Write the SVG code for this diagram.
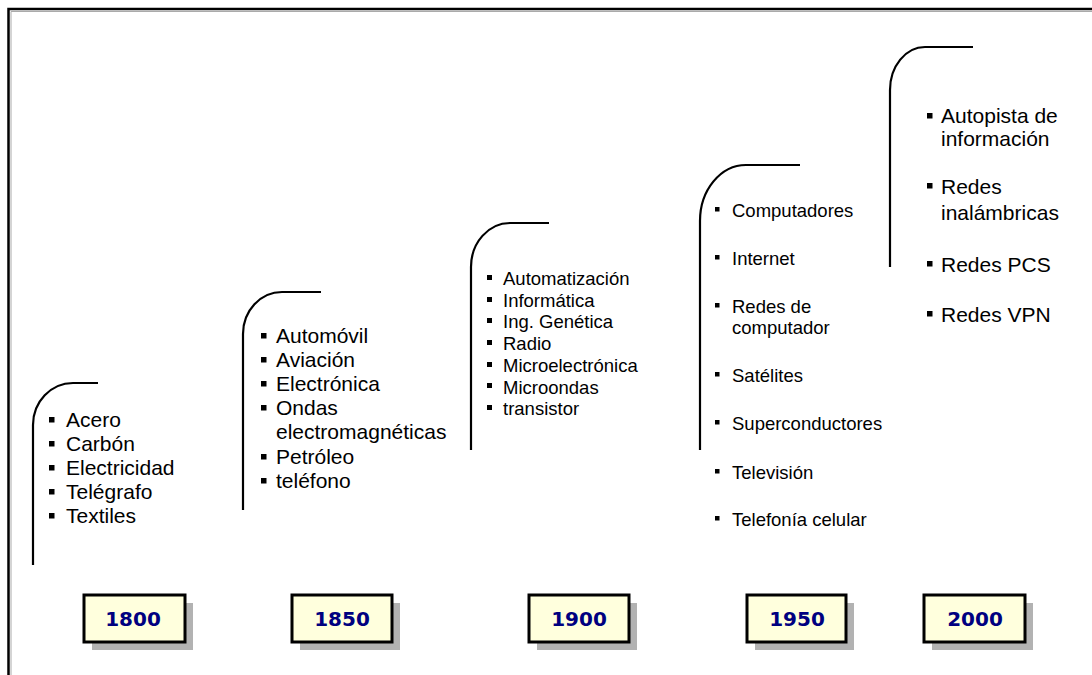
<svg xmlns="http://www.w3.org/2000/svg" width="1092" height="675" viewBox="0 0 1092 675">
<style>
.br{fill:none;stroke:#000;stroke-width:2.2}
.t{font-family:"Liberation Sans",Arial,sans-serif;fill:#000}
.t1{font-size:21px}
.t3{font-size:18.5px}
.b{fill:#000}
.yb{fill:#ffffdd;stroke:#000;stroke-width:3}
.sh{fill:#b2b2b2}
.yt{font-family:"DejaVu Sans",Verdana,sans-serif;font-weight:bold;font-size:20px;fill:#000080;text-anchor:middle}
</style>
<rect x="0" y="0" width="1092" height="675" fill="#fff"/>
<g id="frame">
<path d="M8.5 675 V9 H1092" fill="none" stroke="#000" stroke-width="2.5"/>
<path d="M11 675 V11.5 H1092" fill="none" stroke="#aaa" stroke-width="1"/>
</g>
<g id="connectors">
<path class="br" d="M98 383 H73 A40 42 0 0 0 33 425 V565"/>
<path class="br" d="M321 292 H282 A39 42 0 0 0 243 334 V510"/>
<path class="br" d="M549 223 H510 A39 44 0 0 0 471 267 V450"/>
<path class="br" d="M800 165 H746 A46 56 0 0 0 700 221 V450"/>
<path class="br" d="M973 47 H925 A35 43 0 0 0 890 90 V267"/>
</g>
<g id="n1800">
<g class="b"><rect x="49" y="417" width="5.5" height="5.5"/><rect x="49" y="441" width="5.5" height="5.5"/><rect x="49" y="465" width="5.5" height="5.5"/><rect x="49" y="489" width="5.5" height="5.5"/><rect x="49" y="513" width="5.5" height="5.5"/></g>
<text class="t t1" x="66" y="427">Acero</text>
<text class="t t1" x="66" y="451">Carbón</text>
<text class="t t1" x="66" y="475">Electricidad</text>
<text class="t t1" x="66" y="499">Telégrafo</text>
<text class="t t1" x="66" y="523">Textiles</text>
</g>
<g id="n1850">
<g class="b"><rect x="261" y="333" width="5.5" height="5.5"/><rect x="261" y="357" width="5.5" height="5.5"/><rect x="261" y="381" width="5.5" height="5.5"/><rect x="261" y="405" width="5.5" height="5.5"/><rect x="261" y="454" width="5.5" height="5.5"/><rect x="261" y="478" width="5.5" height="5.5"/></g>
<text class="t t1" x="276" y="343">Automóvil</text>
<text class="t t1" x="276" y="367">Aviación</text>
<text class="t t1" x="276" y="391">Electrónica</text>
<text class="t t1" x="276" y="415">Ondas</text>
<text class="t t1" x="276" y="439">electromagnéticas</text>
<text class="t t1" x="276" y="464">Petróleo</text>
<text class="t t1" x="276" y="488">teléfono</text>
</g>
<g id="n1900">
<g class="b"><rect x="487" y="275" width="5" height="5"/><rect x="487" y="297" width="5" height="5"/><rect x="487" y="318" width="5" height="5"/><rect x="487" y="340" width="5" height="5"/><rect x="487" y="362" width="5" height="5"/><rect x="487" y="383" width="5" height="5"/><rect x="487" y="405" width="5" height="5"/></g>
<text class="t t3" x="503" y="285">Automatización</text>
<text class="t t3" x="503" y="306.7">Informática</text>
<text class="t t3" x="503" y="328.4">Ing. Genética</text>
<text class="t t3" x="503" y="350">Radio</text>
<text class="t t3" x="503" y="371.8">Microelectrónica</text>
<text class="t t3" x="503" y="393.5">Microondas</text>
<text class="t t3" x="503" y="415">transistor</text>
</g>
<g id="n1950">
<g class="b"><rect x="715" y="207" width="4.5" height="4.5"/><rect x="715" y="255" width="4.5" height="4.5"/><rect x="715" y="303" width="4.5" height="4.5"/><rect x="715" y="372" width="4.5" height="4.5"/><rect x="715" y="420" width="4.5" height="4.5"/><rect x="715" y="469" width="4.5" height="4.5"/><rect x="715" y="516" width="4.5" height="4.5"/></g>
<text class="t t3" x="732" y="217">Computadores</text>
<text class="t t3" x="732" y="265">Internet</text>
<text class="t t3" x="732" y="313">Redes de</text>
<text class="t t3" x="732" y="334">computador</text>
<text class="t t3" x="732" y="382">Satélites</text>
<text class="t t3" x="732" y="430">Superconductores</text>
<text class="t t3" x="732" y="479">Televisión</text>
<text class="t t3" x="732" y="526">Telefonía celular</text>
</g>
<g id="n2000">
<g class="b"><rect x="927" y="113" width="5.5" height="5.5"/><rect x="927" y="183" width="5.5" height="5.5"/><rect x="927" y="261" width="5.5" height="5.5"/><rect x="927" y="311" width="5.5" height="5.5"/></g>
<text class="t t1" x="941" y="123">Autopista de</text>
<text class="t t1" x="941" y="146">información</text>
<text class="t t1" x="941" y="194">Redes</text>
<text class="t t1" x="941" y="220">inalámbricas</text>
<text class="t t1" x="941" y="272">Redes PCS</text>
<text class="t t1" x="941" y="322">Redes VPN</text>
</g>
<g id="y1800"><rect class="sh" x="92" y="603" width="101" height="47"/><rect class="yb" x="84" y="595" width="101" height="47"/><text class="yt" x="133" y="626">1800</text></g>
<g id="y1850"><rect class="sh" x="300" y="603" width="100" height="47"/><rect class="yb" x="292" y="595" width="100" height="47"/><text class="yt" x="342" y="626">1850</text></g>
<g id="y1900"><rect class="sh" x="537" y="603" width="100" height="47"/><rect class="yb" x="529" y="595" width="100" height="47"/><text class="yt" x="579" y="626">1900</text></g>
<g id="y1950"><rect class="sh" x="755" y="603" width="99" height="47"/><rect class="yb" x="747" y="595" width="99" height="47"/><text class="yt" x="797" y="626">1950</text></g>
<g id="y2000"><rect class="sh" x="932" y="603" width="101" height="47"/><rect class="yb" x="924" y="595" width="101" height="47"/><text class="yt" x="975" y="626">2000</text></g>
</svg>
